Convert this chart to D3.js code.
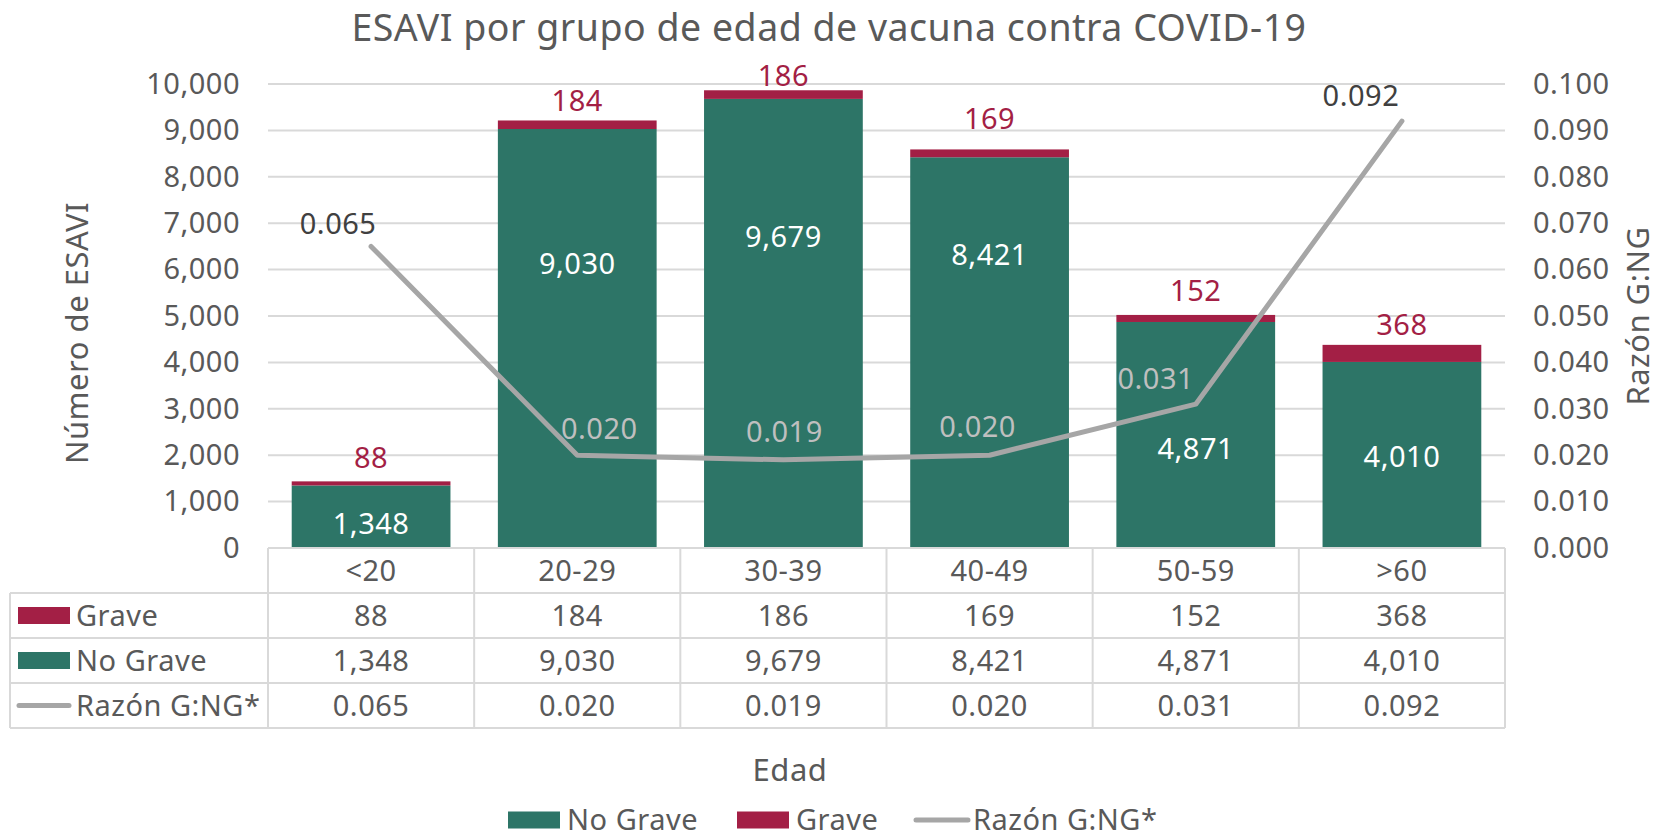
<!DOCTYPE html>
<html>
<head>
<meta charset="utf-8">
<script src="https://cdn.jsdelivr.net/npm/d3@7"></script>
<style>
  body { margin: 0; background: #fff; }
  text { font-family: 'Noto Sans', sans-serif; letter-spacing: 0.5px; }
</style>
</head>
<body>
<div id="chart"></div>
<script>
// data
const categories = ["<20", "20-29", "30-39", "40-49", "50-59", ">60"];
const grave = [88, 184, 186, 169, 152, 368];
const noGrave = [1348, 9030, 9679, 8421, 4871, 4010];
const razon = [0.065, 0.020, 0.019, 0.020, 0.031, 0.092];
const seriesNames = ["Grave", "No Grave", "Razón G:NG*"];

// hand-placed label nudges (px), as in the original
const noGraveLabelDy = [7, -75, -87, -98, 14, 2];
const graveLabelDy = [-24, -20, -15, -31, -24, -20];
const razonLabelDx = [-33, 22, 1, -12, -40, -41];
const razonLabelDy = [-23, -27, -28, -29, -26, -26];
const razonLabelDark = [true, false, false, false, false, true];

const W = 1657, H = 840;
const green = "#2d7567", red = "#a31f45", lineGray = "#a6a6a6";
const grid = "#d9d9d9", textCol = "#595959";
const fs = 29;

const plotLeft = 268, plotRight = 1505, plotTop = 84, plotBottom = 548;
const rowH = 45, legendLeft = 10;

const svg = d3.select("#chart").append("svg")
  .attr("width", W).attr("height", H);

const x = d3.scaleBand()
  .domain(categories)
  .range([plotLeft, plotRight])
  .paddingInner(0.23)
  .paddingOuter(0.115);

const y = d3.scaleLinear().domain([0, 10000]).range([plotBottom, plotTop]);
const y2 = d3.scaleLinear().domain([0, 0.1]).range([plotBottom, plotTop]);

// gridlines
svg.append("g")
  .selectAll("line")
  .data(y.ticks(10))
  .enter().append("line")
    .attr("x1", plotLeft).attr("x2", plotRight)
    .attr("y1", d => y(d)).attr("y2", d => y(d))
    .attr("stroke", grid).attr("stroke-width", 2);

// left axis
const yAxis = svg.append("g")
  .attr("transform", "translate(" + (plotLeft - 28) + ",0)")
  .call(d3.axisLeft(y).ticks(10).tickFormat(d3.format(",")).tickSize(0).tickPadding(0));
yAxis.select(".domain").remove();
yAxis.selectAll("text").attr("font-size", fs).attr("fill", textCol).attr("font-family", "'Noto Sans', sans-serif");

// right axis
const y2Axis = svg.append("g")
  .attr("transform", "translate(" + (plotRight + 28) + ",0)")
  .call(d3.axisRight(y2).ticks(10).tickFormat(d3.format(".3f")).tickSize(0).tickPadding(0));
y2Axis.select(".domain").remove();
y2Axis.selectAll("text").attr("font-size", fs).attr("fill", textCol).attr("font-family", "'Noto Sans', sans-serif");

// stacked bars
const bars = svg.append("g");
bars.selectAll(".ng")
  .data(categories)
  .enter().append("rect")
    .attr("x", d => x(d))
    .attr("width", x.bandwidth())
    .attr("y", (d, i) => y(noGrave[i]))
    .attr("height", (d, i) => y(0) - y(noGrave[i]))
    .attr("fill", green);
bars.selectAll(".g")
  .data(categories)
  .enter().append("rect")
    .attr("x", d => x(d))
    .attr("width", x.bandwidth())
    .attr("y", (d, i) => y(noGrave[i] + grave[i]))
    .attr("height", (d, i) => y(noGrave[i]) - y(noGrave[i] + grave[i]))
    .attr("fill", red);

// bar labels
const fmt = d3.format(",");
svg.append("g").selectAll("text")
  .data(categories)
  .enter().append("text")
    .attr("x", d => x(d) + x.bandwidth() / 2)
    .attr("y", (d, i) => y(noGrave[i] / 2) + noGraveLabelDy[i])
    .attr("dy", "0.36em")
    .attr("text-anchor", "middle")
    .attr("font-size", fs)
    .attr("fill", "#fff")
    .text((d, i) => fmt(noGrave[i]));
svg.append("g").selectAll("text")
  .data(categories)
  .enter().append("text")
    .attr("x", d => x(d) + x.bandwidth() / 2)
    .attr("y", (d, i) => y(noGrave[i] + grave[i]) + graveLabelDy[i])
    .attr("dy", "0.36em")
    .attr("text-anchor", "middle")
    .attr("font-size", fs)
    .attr("fill", red)
    .text((d, i) => fmt(grave[i]));

// ratio line
const line = d3.line()
  .x((d, i) => x(categories[i]) + x.bandwidth() / 2)
  .y(d => y2(d));
svg.append("path")
  .datum(razon)
  .attr("d", line)
  .attr("fill", "none")
  .attr("stroke", lineGray)
  .attr("stroke-width", 5)
  .attr("stroke-linecap", "round")
  .attr("stroke-linejoin", "round");

svg.append("g").selectAll("text")
  .data(razon)
  .enter().append("text")
    .attr("x", (d, i) => x(categories[i]) + x.bandwidth() / 2 + razonLabelDx[i])
    .attr("y", (d, i) => y2(d) + razonLabelDy[i])
    .attr("dy", "0.36em")
    .attr("text-anchor", "middle")
    .attr("font-size", fs)
    .attr("fill", (d, i) => razonLabelDark[i] ? "#404040" : "#bfbfbf")
    .text(d => d3.format(".3f")(d));

// data table
const step = x.step();
const table = svg.append("g");
const hLines = [
  { y: plotBottom, x1: plotLeft },
  { y: plotBottom + rowH, x1: legendLeft },
  { y: plotBottom + rowH * 2, x1: legendLeft },
  { y: plotBottom + rowH * 3, x1: legendLeft },
  { y: plotBottom + rowH * 4, x1: legendLeft }
];
table.selectAll(".h").data(hLines).enter().append("line")
  .attr("x1", d => d.x1).attr("x2", plotRight)
  .attr("y1", d => d.y).attr("y2", d => d.y)
  .attr("stroke", grid).attr("stroke-width", 2);
table.selectAll(".v").data(d3.range(categories.length + 1)).enter().append("line")
  .attr("x1", i => plotLeft + i * step).attr("x2", i => plotLeft + i * step)
  .attr("y1", plotBottom).attr("y2", plotBottom + rowH * 4)
  .attr("stroke", grid).attr("stroke-width", 2);
table.append("line")
  .attr("x1", legendLeft).attr("x2", legendLeft)
  .attr("y1", plotBottom + rowH).attr("y2", plotBottom + rowH * 4)
  .attr("stroke", grid).attr("stroke-width", 2);

const rows = [
  categories,
  grave.map(fmt),
  noGrave.map(fmt),
  razon.map(d3.format(".3f"))
];
rows.forEach((vals, r) => {
  table.append("g").selectAll("text")
    .data(vals)
    .enter().append("text")
      .attr("x", (d, i) => x(categories[i]) + x.bandwidth() / 2)
      .attr("y", plotBottom + rowH * r + rowH / 2)
      .attr("dy", "0.36em")
      .attr("text-anchor", "middle")
      .attr("font-size", fs)
      .attr("fill", textCol)
      .text(d => d);
});

// legend keys inside the table
seriesNames.forEach((name, r) => {
  const cy = plotBottom + rowH * (r + 1) + rowH / 2;
  if (r < 2) {
    table.append("rect")
      .attr("x", 18).attr("y", cy - 8.5)
      .attr("width", 52).attr("height", 17)
      .attr("fill", r === 0 ? red : green);
  } else {
    table.append("line")
      .attr("x1", 19).attr("x2", 69)
      .attr("y1", cy).attr("y2", cy)
      .attr("stroke", lineGray).attr("stroke-width", 5)
      .attr("stroke-linecap", "round");
  }
  table.append("text")
    .attr("x", 76).attr("y", cy)
    .attr("dy", "0.36em")
    .attr("font-size", fs)
    .attr("fill", textCol)
    .text(name);
});

// titles
svg.append("text")
  .attr("x", 829).attr("y", 41)
  .attr("text-anchor", "middle")
  .attr("font-size", 37.5)
  .attr("fill", textCol)
  .text("ESAVI por grupo de edad de vacuna contra COVID-19");

svg.append("text")
  .attr("transform", "translate(88,333) rotate(-90)")
  .attr("text-anchor", "middle")
  .attr("font-size", 31)
  .attr("fill", textCol)
  .text("Número de ESAVI");

svg.append("text")
  .attr("transform", "translate(1649,316) rotate(-90)")
  .attr("text-anchor", "middle")
  .attr("font-size", 31)
  .attr("fill", textCol)
  .text("Razón G:NG");

svg.append("text")
  .attr("x", 790).attr("y", 781)
  .attr("text-anchor", "middle")
  .attr("font-size", 31)
  .attr("fill", textCol)
  .text("Edad");

// bottom legend
const legendItems = [
  { name: seriesNames[1], type: "rect", color: green, x: 508 },
  { name: seriesNames[0], type: "rect", color: red, x: 737 },
  { name: seriesNames[2], type: "line", color: lineGray, x: 914 }
];
const ly = 820;
legendItems.forEach(it => {
  if (it.type === "rect") {
    svg.append("rect")
      .attr("x", it.x).attr("y", ly - 8.5)
      .attr("width", 52).attr("height", 17)
      .attr("fill", it.color);
  } else {
    svg.append("line")
      .attr("x1", it.x + 2).attr("x2", it.x + 54)
      .attr("y1", ly).attr("y2", ly)
      .attr("stroke", it.color).attr("stroke-width", 5)
      .attr("stroke-linecap", "round");
  }
  svg.append("text")
    .attr("x", it.x + 59).attr("y", ly)
    .attr("dy", "0.36em")
    .attr("font-size", fs)
    .attr("fill", textCol)
    .text(it.name);
});
</script>
</body>
</html>
